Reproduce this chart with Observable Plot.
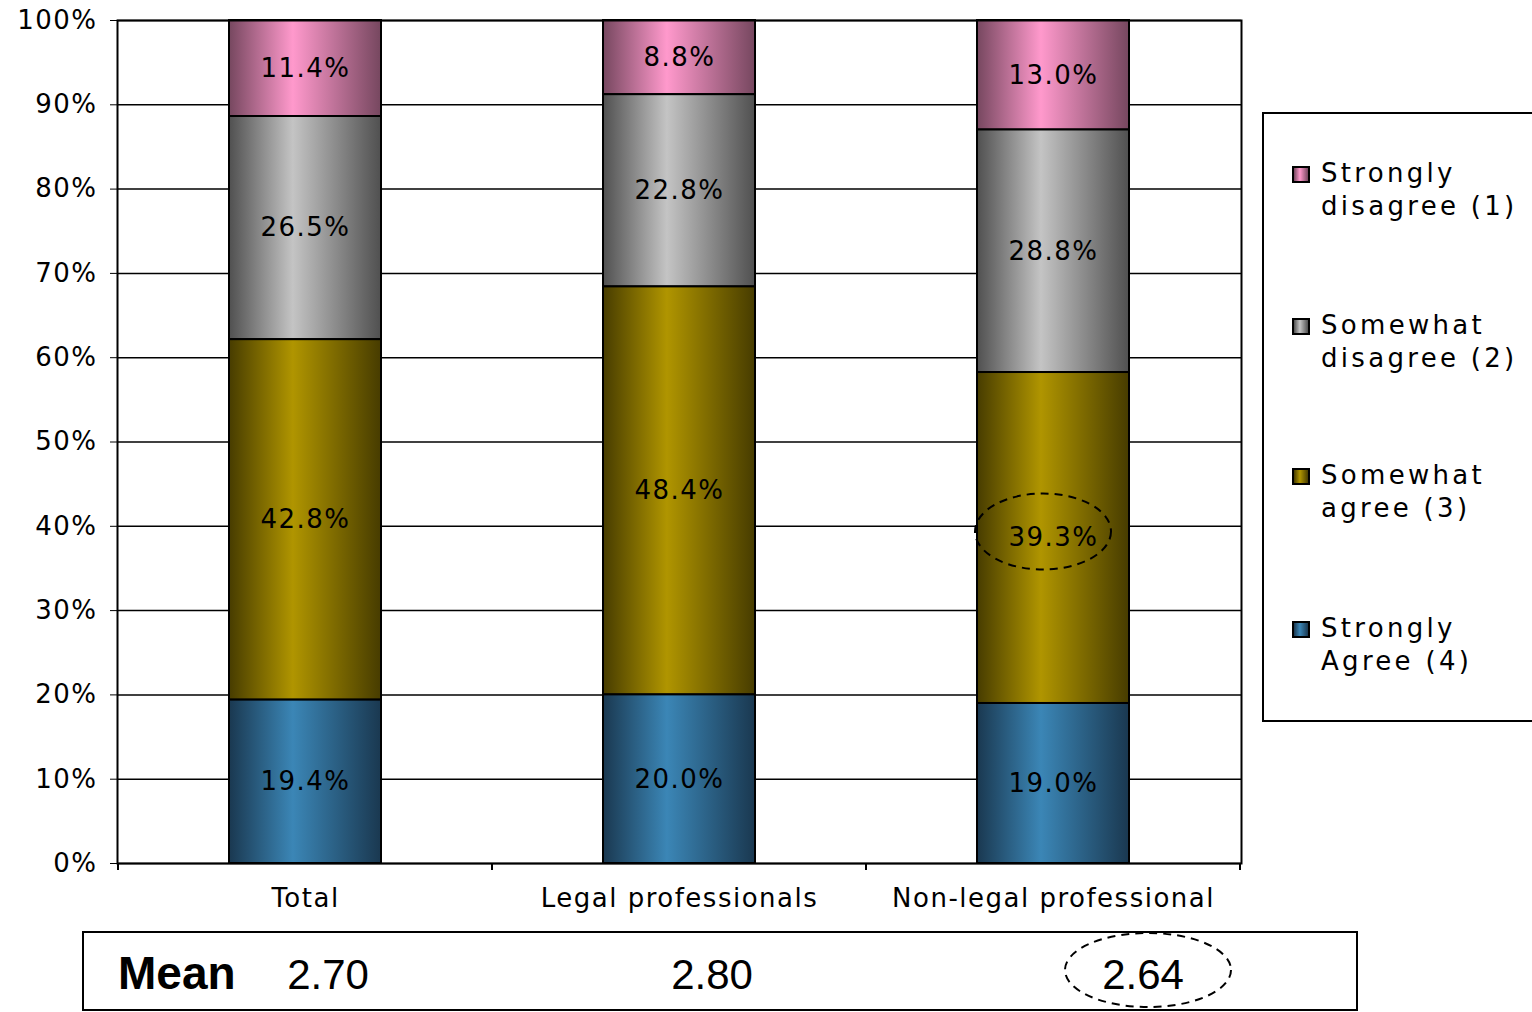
<!DOCTYPE html>
<html><head><meta charset="utf-8">
<script src="https://cdn.jsdelivr.net/npm/d3@7"></script>
<script src="https://cdn.jsdelivr.net/npm/@observablehq/plot@0.6"></script>
<style>
body{margin:0;background:#fff;}
#wrap{position:relative;width:1532px;height:1012px;overflow:hidden;background:#fff;font-family:"DejaVu Sans",Verdana,sans-serif;}
#chart{position:absolute;left:0;top:0;}
#legend{position:absolute;left:1262px;top:112px;width:300px;height:610px;border:2px solid #000;box-sizing:border-box;background:#fff;}
.item{position:absolute;left:57px;font-size:26px;letter-spacing:3.3px;line-height:33px;color:#000;white-space:nowrap;}
.sw{position:absolute;left:28px;width:18px;height:17px;border:2px solid #000;box-sizing:border-box;}
#mean{position:absolute;left:82px;top:931px;}
</style></head>
<body>
<div id="wrap">
  <div id="chart"></div>
  <div id="legend"></div>
  <svg id="mean" width="1278" height="81"></svg>
</div>
<script>
// ---- data ----
const categories = ["Total", "Legal professionals", "Non-legal professional"];
const responses = ["Strongly disagree (1)", "Somewhat disagree (2)", "Somewhat agree (3)", "Strongly Agree (4)"];
const legendLines = [["Strongly", "disagree (1)"], ["Somewhat", "disagree (2)"], ["Somewhat", "agree (3)"], ["Strongly", "Agree (4)"]];
const stronglyDisagree = [11.4, 8.8, 13.0];
const somewhatDisagree = [26.5, 22.8, 28.8];
const somewhatAgree = [42.8, 48.4, 39.3];
const stronglyAgree = [19.4, 20.0, 19.0];
const meanLabel = "Mean";
const meanValues = ["2.70", "2.80", "2.64"];
const yTicks = [0, 10, 20, 30, 40, 50, 60, 70, 80, 90, 100];

// ---- styling ----
const gradColors = [
  ["#76475f", "#ff99cc"],
  ["#505050", "#c4c4c4"],
  ["#473c00", "#b09500"],
  ["#1a3850", "#3b86b6"]
];
const stackOrder = ["Strongly Agree (4)", "Somewhat agree (3)", "Somewhat disagree (2)", "Strongly disagree (1)"];

const seriesValues = [stronglyDisagree, somewhatDisagree, somewhatAgree, stronglyAgree];
const rows = [];
categories.forEach((c, ci) => responses.forEach((r, ri) => rows.push({category: c, response: r, value: seriesValues[ri][ci]})));

const plot = Plot.plot({
  width: 1250, height: 930,
  marginLeft: 117, marginRight: 9, marginTop: 20, marginBottom: 67,
  style: {fontFamily: '"DejaVu Sans", Verdana, sans-serif', fontSize: "26px", letterSpacing: "1.5px", color: "#000", background: "transparent", overflow: "visible"},
  x: {domain: categories, paddingInner: 0.594, paddingOuter: 0.297, label: null, tickSize: 0, tickPadding: 25},
  y: {domain: [0, 1], ticks: yTicks.map(v => v / 100), tickFormat: d => Math.round(d * 100) + "%", label: null, tickSize: 7, tickPadding: 13},
  color: {domain: responses, range: responses.map((r, i) => `url(#grad${i})`)},
  marks: [
    Plot.ruleY(yTicks.map(v => v / 100), {stroke: "#000", strokeWidth: 1.5}),
    Plot.barY(rows, Plot.stackY({x: "category", y: "value", z: "response", fill: "response", order: stackOrder, offset: "normalize", stroke: "#000", strokeWidth: 2})),
    Plot.text(rows, Plot.stackY({x: "category", y: "value", z: "response", order: stackOrder, offset: "normalize", text: d => d.value.toFixed(1) + "%", fill: "#000", fontSize: 26, style: {letterSpacing: "1.6px"}})),
    Plot.frame({stroke: "#000", strokeWidth: 2})
  ]
});
document.getElementById("chart").appendChild(plot);

const svg = d3.select(plot);
const defs = svg.insert("defs", ":first-child");
gradColors.forEach(([dark, bright], i) => {
  const g = defs.append("linearGradient").attr("id", "grad" + i).attr("x1", 0).attr("x2", 1).attr("y1", 0).attr("y2", 0);
  g.append("stop").attr("offset", "0%").attr("stop-color", dark);
  g.append("stop").attr("offset", "42%").attr("stop-color", bright);
  g.append("stop").attr("offset", "100%").attr("stop-color", dark);
});

const xs = plot.scale("x"), ys = plot.scale("y");
const step = xs.step || xs.bandwidth / (1 - 0.594);
const y0 = ys.apply(0);
const bounds = categories.map(c => xs.apply(c) + xs.bandwidth / 2 - step / 2);
bounds.push(bounds[bounds.length - 1] + step);
bounds.forEach(bx => svg.append("line").attr("x1", bx).attr("x2", bx).attr("y1", y0).attr("y2", y0 + 7).attr("stroke", "#000").attr("stroke-width", 2));

// dashed highlight around Non-legal "Somewhat agree" label
const ci = 2;
const tot = stronglyDisagree[ci] + somewhatDisagree[ci] + somewhatAgree[ci] + stronglyAgree[ci];
const mid = (stronglyAgree[ci] + somewhatAgree[ci] / 2) / tot;
svg.append("ellipse").attr("cx", xs.apply(categories[ci]) + xs.bandwidth / 2 - 10).attr("cy", ys.apply(mid) - 6)
  .attr("rx", 68).attr("ry", 38).attr("fill", "none").attr("stroke", "#000").attr("stroke-width", 2).attr("stroke-dasharray", "8,6");

// ---- legend ----
const legend = d3.select("#legend");
const itemTops = [43, 195, 345, 498];
responses.forEach((r, i) => {
  legend.append("div").attr("class", "sw").style("top", (itemTops[i] + 9) + "px")
    .style("background", `linear-gradient(to right, ${gradColors[i][0]}, ${gradColors[i][1]} 42%, ${gradColors[i][0]})`);
  legend.append("div").attr("class", "item").style("top", itemTops[i] + "px").html(legendLines[i].join("<br>"));
});

// ---- mean row ----
const ms = d3.select("#mean");
ms.append("rect").attr("x", 1).attr("y", 1).attr("width", 1274).attr("height", 78).attr("fill", "#fff").attr("stroke", "#000").attr("stroke-width", 2);
ms.append("text").attr("x", 36).attr("y", 58).attr("font-family", '"Liberation Sans", Arial, sans-serif').attr("font-weight", "bold").attr("font-size", 46).text(meanLabel);
const meanX = [246, 630, 1061];
meanValues.forEach((v, i) => ms.append("text").attr("x", meanX[i]).attr("y", 58).attr("text-anchor", "middle")
  .attr("font-family", '"Liberation Sans", Arial, sans-serif').attr("font-size", 42).text(v));
ms.append("ellipse").attr("cx", 1066).attr("cy", 39).attr("rx", 83).attr("ry", 37).attr("fill", "none").attr("stroke", "#000").attr("stroke-width", 2).attr("stroke-dasharray", "8,6");
</script>
</body></html>
